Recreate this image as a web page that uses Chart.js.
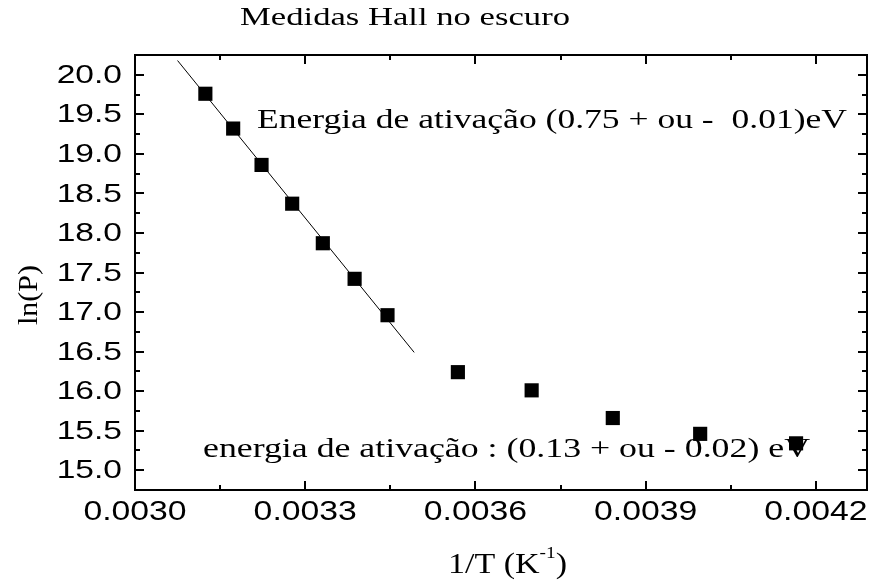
<!DOCTYPE html>
<html>
<head>
<meta charset="utf-8">
<script src="https://cdn.jsdelivr.net/npm/chart.js"></script>
<style>
  html, body { margin: 0; padding: 0; background: #fff; }
  #wrap { width: 877px; height: 581px; }
</style>
</head>
<body>
<div id="wrap"><canvas id="hall" width="877" height="581"></canvas></div>
<script>
// measured points: 1/T (K^-1) vs ln(P)
const invT = [0.003124, 0.003173, 0.003223, 0.003277, 0.003331, 0.003387,
              0.003445, 0.003569, 0.003699, 0.003842, 0.003996, 0.004165];
const lnP  = [19.76, 19.32, 18.86, 18.37, 17.87, 17.42,
              16.96, 16.24, 16.01, 15.66, 15.46, 15.34];

// linear fit over the high temperature points
const fitX = [0.003075, 0.003492];
const fitY = [20.18, 16.49];

const xMajor = [0.0030, 0.0033, 0.0036, 0.0039, 0.0042];
const xMinor = [0.00315, 0.00345, 0.00375, 0.00405];
const xTickLabels = ['0.0030', '0.0033', '0.0036', '0.0039', '0.0042'];

const yMajor = [15.0, 15.5, 16.0, 16.5, 17.0, 17.5, 18.0, 18.5, 19.0, 19.5, 20.0];
const yMinor = [15.25, 15.75, 16.25, 16.75, 17.25, 17.75, 18.25, 18.75, 19.25, 19.75];
const yTickLabels = ['15.0', '15.5', '16.0', '16.5', '17.0', '17.5', '18.0', '18.5', '19.0', '19.5', '20.0'];

const titleText = 'Medidas Hall no escuro';
const noteHigh = 'Energia de ativação (0.75 + ou -  0.01)eV';
const noteLow = 'energia de ativação : (0.13 + ou - 0.02) eV';

const SERIF = '"Liberation Serif", "Times New Roman", serif';
const SANS = '"Liberation Sans", Arial, sans-serif';

// draws text squeezed/stretched to span exactly left..right
function fitText(ctx, text, left, right, baseline, font) {
    ctx.font = font;
    const w = ctx.measureText(text).width;
    ctx.save();
    ctx.translate(left, baseline);
    ctx.scale((right - left) / w, 1);
    ctx.textAlign = 'left';
    ctx.textBaseline = 'alphabetic';
    ctx.fillText(text, 0, 0);
    ctx.restore();
}

// wide text, anchored on a point
function wideText(ctx, text, cx, cy, font, sx, align) {
    ctx.save();
    ctx.font = font;
    ctx.translate(cx, cy);
    ctx.scale(sx, 1);
    ctx.textAlign = align;
    ctx.textBaseline = 'middle';
    ctx.fillText(text, 0, 0);
    ctx.restore();
}

const frame = {
    id: 'frame',
    afterDraw(chart) {
        const { ctx, chartArea: a, scales: { x, y } } = chart;
        ctx.save();
        ctx.fillStyle = '#000';
        ctx.strokeStyle = '#000';

        // box
        ctx.lineWidth = 2;
        ctx.strokeRect(a.left, a.top, a.right - a.left, a.bottom - a.top);

        // inward ticks on all four sides
        const tick = (x1, y1, x2, y2) => {
            ctx.beginPath();
            ctx.moveTo(x1, y1);
            ctx.lineTo(x2, y2);
            ctx.stroke();
        };
        xMajor.forEach(v => {
            const px = Math.round(x.getPixelForValue(v));
            tick(px, a.bottom, px, a.bottom - 9);
            tick(px, a.top, px, a.top + 9);
        });
        xMinor.forEach(v => {
            const px = Math.round(x.getPixelForValue(v));
            tick(px, a.bottom, px, a.bottom - 5);
            tick(px, a.top, px, a.top + 5);
        });
        yMajor.forEach(v => {
            const py = Math.round(y.getPixelForValue(v));
            tick(a.left, py, a.left + 9, py);
            tick(a.right, py, a.right - 9, py);
        });
        yMinor.forEach(v => {
            const py = Math.round(y.getPixelForValue(v));
            tick(a.left, py, a.left + 5, py);
            tick(a.right, py, a.right - 5, py);
        });

        // tick labels
        xMajor.forEach((v, i) => {
            wideText(ctx, xTickLabels[i], x.getPixelForValue(v), a.bottom + 23, '27px ' + SANS, 1.25, 'center');
        });
        yMajor.forEach((v, i) => {
            wideText(ctx, yTickLabels[i], a.left - 13, y.getPixelForValue(v) + 1, '26px ' + SANS, 1.29, 'right');
        });

        // title and notes
        fitText(ctx, titleText, 240, 570, 25, '26px ' + SERIF);
        fitText(ctx, noteHigh, 257, 847, 128, '27px ' + SERIF);
        fitText(ctx, noteLow, 203, 810, 457, '27px ' + SERIF);

        // x axis title with superscript, spanning 448..567
        ctx.save();
        ctx.font = '30px ' + SERIF;
        const wMain = ctx.measureText('1/T (K').width;
        const wClose = ctx.measureText(')').width;
        ctx.font = '17px ' + SERIF;
        const wSup = ctx.measureText('-1').width;
        ctx.translate(448, 573);
        ctx.scale(119 / (wMain + wSup + wClose), 1);
        ctx.textBaseline = 'alphabetic';
        ctx.textAlign = 'left';
        ctx.font = '30px ' + SERIF;
        ctx.fillText('1/T (K', 0, 0);
        ctx.font = '17px ' + SERIF;
        ctx.fillText('-1', wMain, -15);
        ctx.font = '30px ' + SERIF;
        ctx.fillText(')', wMain + wSup, 0);
        ctx.restore();

        // y axis title
        ctx.save();
        ctx.translate(37, 295);
        ctx.rotate(-Math.PI / 2);
        ctx.font = '26px ' + SERIF;
        const w = ctx.measureText('ln(P)').width;
        ctx.scale(60 / w, 1.05);
        ctx.textAlign = 'center';
        ctx.textBaseline = 'alphabetic';
        ctx.fillText('ln(P)', 0, 0);
        ctx.restore();

        ctx.restore();
    }
};

new Chart(document.getElementById('hall'), {
    type: 'scatter',
    data: {
        datasets: [
            {
                label: 'ajuste',
                data: fitX.map((v, i) => ({ x: v, y: fitY[i] })),
                showLine: true,
                borderColor: '#000',
                borderWidth: 1,
                pointRadius: 0,
                order: 2
            },
            {
                label: 'ln(P)',
                data: invT.map((v, i) => ({ x: v, y: lnP[i] })),
                pointStyle: 'rect',
                pointRadius: 10,
                pointBackgroundColor: '#000',
                pointBorderWidth: 0,
                borderColor: '#000',
                order: 1
            }
        ]
    },
    options: {
        responsive: false,
        animation: false,
        layout: { padding: { left: 135, top: 55, right: 2, bottom: 91 } },
        plugins: {
            legend: { display: false },
            tooltip: { enabled: false },
            title: { display: false }
        },
        scales: {
            x: { type: 'linear', min: 0.0030, max: 0.00429, display: false },
            y: { type: 'linear', min: 14.75, max: 20.25, display: false }
        }
    },
    plugins: [frame]
});
</script>
</body>
</html>
